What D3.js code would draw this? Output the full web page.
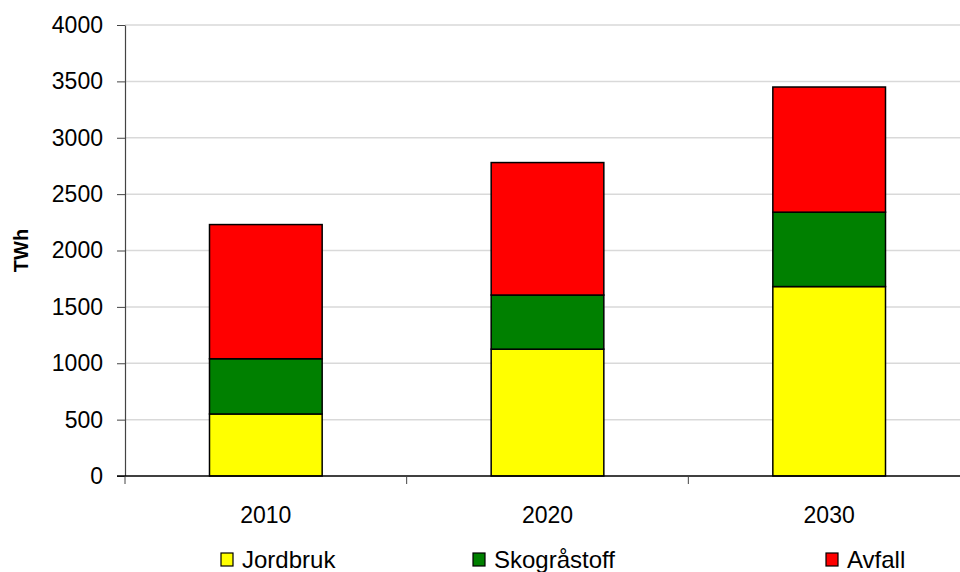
<!DOCTYPE html>
<html>
<head>
<meta charset="utf-8">
<script src="https://cdn.jsdelivr.net/npm/d3@7"></script>
<style>
  body { margin: 0; background: #fff; }
  svg { font-family: "Liberation Sans", Arial, sans-serif; }
</style>
</head>
<body>
<svg id="chart" width="960" height="572"></svg>
<script>
const years = ["2010", "2020", "2030"];
const seriesNames = ["Jordbruk", "Skogråstoff", "Avfall"];
const seriesColors = ["#ffff00", "#008000", "#ff0000"];
const jordbruk = [550, 1125, 1680];
const skograstoff = [490, 480, 660];
const avfall = [1190, 1175, 1110];
const yTicks = [0, 500, 1000, 1500, 2000, 2500, 3000, 3500, 4000];

const svg = d3.select("#chart");
const margin = { top: 25, left: 125, bottom: 96 };
const plotRight = 970;
const plotBottom = 572 - margin.bottom;

const table = years.map((y, i) => ({
  year: y,
  Jordbruk: jordbruk[i],
  "Skogråstoff": skograstoff[i],
  Avfall: avfall[i]
}));

// one band per category, bars take 40% of it
const x = d3.scaleBand().domain(years).range([margin.left, plotRight]);
const barW = x.bandwidth() * 0.4;
const barX = d => x(d) + (x.bandwidth() - barW) / 2;

const y = d3.scaleLinear()
  .domain([0, 4000])
  .range([plotBottom, margin.top]);

// gridlines
svg.append("g")
  .selectAll("line")
  .data(yTicks.filter(d => d > 0))
  .join("line")
  .attr("x1", margin.left)
  .attr("x2", plotRight)
  .attr("y1", d => y(d))
  .attr("y2", d => y(d))
  .attr("stroke", "#d9d9d9")
  .attr("stroke-width", 1.5);

// stacked bars
const layers = d3.stack().keys(seriesNames)(table);

svg.append("g")
  .selectAll("g")
  .data(layers)
  .join("g")
  .attr("fill", (d, i) => seriesColors[i])
  .selectAll("rect")
  .data(d => d)
  .join("rect")
  .attr("x", d => barX(d.data.year))
  .attr("width", barW)
  .attr("y", d => y(d[1]))
  .attr("height", d => y(d[0]) - y(d[1]))
  .attr("stroke", "#000")
  .attr("stroke-width", 1.5);

// y axis
const yAxis = svg.append("g")
  .attr("transform", `translate(${margin.left},0)`)
  .call(d3.axisLeft(y).tickValues(yTicks).tickFormat(d3.format("d"))
    .tickSize(8).tickPadding(14).tickSizeOuter(0));
yAxis.select(".domain").attr("stroke", "#444").attr("stroke-width", 1.2);
yAxis.selectAll(".tick line").attr("stroke", "#444");
yAxis.selectAll(".tick text")
  .attr("font-size", 23)
  .attr("fill", "#000")
  .attr("font-family", "Liberation Sans, Arial, sans-serif");

// x axis: ticks at category boundaries
const xAxis = svg.append("g")
  .attr("transform", `translate(0,${plotBottom})`);
xAxis.append("line")
  .attr("x1", margin.left - 8)
  .attr("x2", plotRight)
  .attr("stroke", "#000")
  .attr("stroke-width", 1.5);
xAxis.selectAll(".bound")
  .data(years)
  .join("line")
  .attr("class", "bound")
  .attr("x1", d => x(d))
  .attr("x2", d => x(d))
  .attr("y1", 0)
  .attr("y2", 8)
  .attr("stroke", "#444");
xAxis.selectAll(".lbl")
  .data(years)
  .join("text")
  .attr("class", "lbl")
  .attr("x", d => x(d) + x.bandwidth() / 2)
  .attr("y", 47)
  .attr("text-anchor", "middle")
  .attr("font-size", 23)
  .text(d => d);

// y axis title
svg.append("text")
  .attr("transform", `translate(28,${(margin.top + plotBottom) / 2}) rotate(-90)`)
  .attr("text-anchor", "middle")
  .attr("font-size", 20)
  .attr("font-weight", "bold")
  .text("TWh");

// legend
const legendX = [221, 473, 826];
const legend = svg.append("g")
  .selectAll("g")
  .data(seriesNames)
  .join("g")
  .attr("transform", (d, i) => `translate(${legendX[i]},553)`);
legend.append("rect")
  .attr("width", 12)
  .attr("height", 13)
  .attr("fill", (d, i) => seriesColors[i])
  .attr("stroke", "#000")
  .attr("stroke-width", 1.2);
legend.append("text")
  .attr("x", 21)
  .attr("y", 15)
  .attr("font-size", 24)
  .text(d => d);
</script>
</body>
</html>
